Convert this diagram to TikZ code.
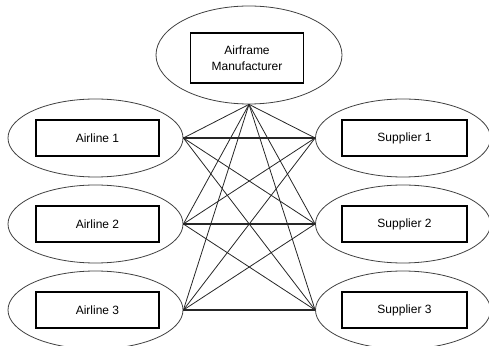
\documentclass[tikz,border=0pt]{standalone}
\usepackage{fontspec}
\setmainfont{Liberation Sans}
\usetikzlibrary{shapes.geometric}

\tikzset{
  oval/.style={ellipse, draw=black!75, line width=0.8pt, minimum width=175pt, minimum height=78pt},
  box/.style={rectangle, draw=black, line width=1.3pt, minimum width=123pt, minimum height=36pt, font=\fontsize{12}{16.5}\selectfont, align=center},
  link/.style={draw=black!85, line width=0.8pt}
}

\begin{document}
\begin{tikzpicture}[x=1pt, y=1pt]
\useasboundingbox (0, 0) rectangle (489, 345);
% outer ovals
\node [oval, minimum width=186pt, minimum height=98pt] (maker) at (249, 290) {};
\node [oval] (air1) at (95.5, 207) {};
\node [oval] (air2) at (95.5, 121) {};
\node [oval] (air3) at (95.5, 35) {};
\node [oval] (sup1) at (403, 207) {};
\node [oval] (sup2) at (403, 121) {};
\node [oval] (sup3) at (403, 35) {};
% boxes
\node [box, minimum width=113pt, minimum height=50pt] (makerbox) at (247, 287) {Airframe\\Manufacturer};
\node [box] (air1box) at (97.5, 207) {Airline 1};
\node [box] (air2box) at (97.5, 121) {Airline 2};
\node [box] (air3box) at (97.5, 35) {Airline 3};
\node [box, minimum width=125pt] (sup1box) at (404.5, 207) {Supplier 1};
\node [box, minimum width=125pt] (sup2box) at (404.5, 121) {Supplier 2};
\node [box, minimum width=125pt] (sup3box) at (404.5, 35) {Supplier 3};
% links
\foreach \i in {1, 2, 3}{
  \draw [link] (maker.south) -- (air\i.east);
  \draw [link] (maker.south) -- (sup\i.west);
  \foreach \j in {1, 2, 3}{\draw [link] (air\i.east) -- (sup\j.west);}
  \draw [link, line width=1.3pt] (air\i.east) -- (sup\i.west);
}
\end{tikzpicture}
\end{document}
